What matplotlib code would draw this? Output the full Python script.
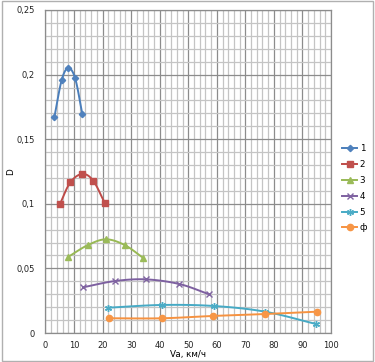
import numpy as np
import matplotlib
matplotlib.use("Agg")
import matplotlib.pyplot as plt
from matplotlib.ticker import MultipleLocator, FuncFormatter

# ---- data ----
s1_x = [3.1, 5.7, 8.0, 10.4, 12.9]
s1_y = [0.167, 0.196, 0.205, 0.197, 0.1695]
s2_x = [5.1, 8.7, 12.9, 16.7, 20.8]
s2_y = [0.100, 0.1166, 0.1231, 0.1179, 0.1005]
s3_x = [8.0, 14.8, 21.2, 27.8, 34.3]
s3_y = [0.059, 0.068, 0.0725, 0.068, 0.058]
s4_x = [13.2, 24.3, 35.2, 46.9, 57.3]
s4_y = [0.0354, 0.0402, 0.0415, 0.0379, 0.030]
s5_x = [22.0, 40.9, 59.0, 76.9, 94.7]
s5_y = [0.0196, 0.0217, 0.0209, 0.0165, 0.0070]
f_x = [22.2, 40.7, 58.8, 76.9, 95.0]
f_y = [0.0114, 0.0114, 0.0132, 0.0147, 0.0165]
labels = ["1", "2", "3", "4", "5", "ф"]
x_ticks = list(range(0, 101, 10))
y_ticks = [0, 0.05, 0.1, 0.15, 0.2, 0.25]


def smooth(x, y, n=30):
    x = np.asarray(x, float); y = np.asarray(y, float)
    P = np.column_stack([x, y])
    P = np.vstack([2 * P[0] - P[1], P, 2 * P[-1] - P[-2]])
    out = []
    for i in range(1, len(P) - 2):
        p0, p1, p2, p3 = P[i - 1], P[i], P[i + 1], P[i + 2]
        t = np.linspace(0, 1, n)[:, None]
        c = 0.5 * ((2 * p1) + (-p0 + p2) * t + (2 * p0 - 5 * p1 + 4 * p2 - p3) * t ** 2
                   + (-p0 + 3 * p1 - 3 * p2 + p3) * t ** 3)
        out.append(c)
    c = np.vstack(out)
    return c[:, 0], c[:, 1]


fig = plt.figure(figsize=(3.75, 3.62), dpi=100)
ax = fig.add_axes([0.1213, 0.0801, 0.7614, 0.8923])

ax.set_xlim(0, 100)
ax.set_ylim(0, 0.25)
ax.xaxis.set_major_locator(MultipleLocator(10))
ax.xaxis.set_minor_locator(MultipleLocator(2))
ax.yaxis.set_major_locator(MultipleLocator(0.05))
ax.yaxis.set_minor_locator(MultipleLocator(0.01))
ax.grid(which="major", color="#8c8c8c", lw=0.9)
ax.grid(which="minor", color="#c4c4c4", lw=0.9)
ax.set_axisbelow(True)
for s in ax.spines.values():
    s.set_color("#8c8c8c")
    s.set_linewidth(0.9)

fmt = FuncFormatter(lambda v, p: ("%g" % round(v, 3)).replace(".", ","))
ax.yaxis.set_major_formatter(fmt)
ax.set_xticks(x_ticks)
ax.set_yticks(y_ticks)
ax.tick_params(which="both", length=0, labelsize=6.0, colors="#222222", pad=6)
ax.tick_params(axis="y", pad=8)

series = [
    (s1_x, s1_y, "#4A7EBB", "D", "#4F81BD", 3.2),
    (s2_x, s2_y, "#BE4B48", "s", "#C0504D", 4.0),
    (s3_x, s3_y, "#98B954", "^", "#9BBB59", 4.5),
    (s4_x, s4_y, "#7D60A0", "x", "#8064A2", 4.0),
    (s5_x, s5_y, "#46AAC5", (6, 2, 0), "#4BACC6", 5.0),
    (f_x, f_y, "#F69240", "o", "#F79646", 4.5),
]
for (x, y, lc, m, mc, ms), lab in zip(series, labels):
    sx, sy = smooth(x, y)
    ax.plot(sx, sy, color=lc, lw=1.4, zorder=3)
    ax.plot(x, y, ls="none", marker=m, color=mc, ms=ms, mew=1.0, zorder=4)
    ax.plot([], [], color=lc, lw=1.4, marker=m, ms=ms, mfc=mc, mec=mc, label=lab)

leg = ax.legend(loc="upper left", bbox_to_anchor=(1.025, 0.595), frameon=False,
                fontsize=6.3, handlelength=1.8, labelspacing=0.78, handletextpad=0.25,
                borderaxespad=0.0)

ax.set_xlabel("Va, км/ч", fontsize=6.3, va="center")
ax.xaxis.set_label_coords(0.5, -0.068)
ax.set_ylabel("D", fontsize=6.3)
ax.yaxis.set_label_coords(-0.105, 0.5)

fig.patches.append(plt.Rectangle((0.006, 0.003), 0.988, 0.994, transform=fig.transFigure,
                                 fill=False, ec="#b0b0b0", lw=1.0))
fig.savefig("out.png", dpi=100)
